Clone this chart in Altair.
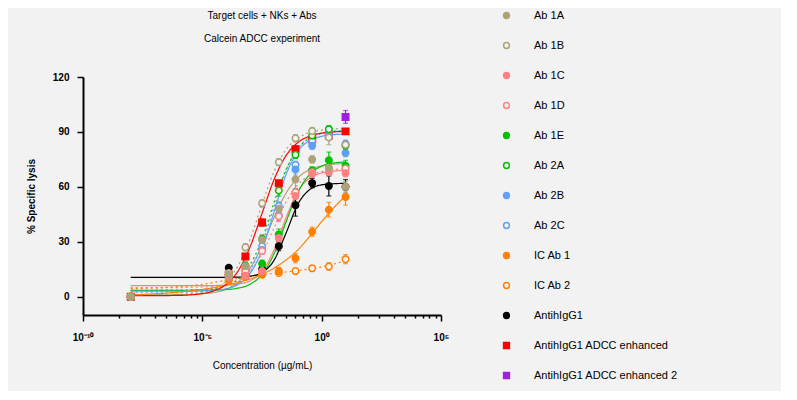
import altair as alt
import pandas as pd

FONT = "Liberation Sans"
BG = "#f2f2f2"

series = ["Ab 1A", "Ab 1B", "Ab 1C", "Ab 1D", "Ab 1E", "Ab 2A", "Ab 2B", "Ab 2C",
          "IC Ab 1", "IC Ab 2", "AntihIgG1", "AntihIgG1 ADCC enhanced",
          "AntihIgG1 ADCC enhanced 2"]
colors = ["#ada279", "#ada279", "#ff8080", "#ff8080", "#00c000", "#00c000",
          "#5ea0f5", "#5ea0f5", "#ff8000", "#ff8000", "#000000", "#ff0000", "#a020e0"]
fills = ["#ada279", BG, "#ff8080", BG, "#00c000", BG, "#5ea0f5", BG,
         "#ff8000", BG, "#000000", "#ff0000", "#a020e0"]
shapes = ["circle"] * 11 + ["square", "square"]
styles = ["solid", "dotted", "solid", "dotted", "solid", "dotted", "solid", "dotted",
          "solid", "dotted", "solid", "solid", "solid"]

# concentrations (ug/mL); first is the no-antibody control plotted at 1e-8
conc = [1e-8, 0.000128, 0.00064, 0.0032, 0.016, 0.08, 0.4, 2, 10]

lysis = {
    "Ab 1A": [0, 12, 16.7, 31, 48, 64, 75, 70.5, 60],
    "Ab 1B": [0, 13, 27, 51, 73.5, 86.5, 90.5, 87, 83],
    "Ab 1C": [0, 11, 11.5, 14, 32, 55, 67, 68, 67.5],
    "Ab 1D": [0, 12, 14, 25, 44, 57, 68, 70, 70],
    "Ab 1E": [0, 12, 14, 18, 34, 57, 69, 74.5, 71.5],
    "Ab 2A": [0, 12, 17, 31.5, 58, 77.5, 88, 91.5, 82.5],
    "Ab 2B": [0, 11, 15, 25.5, 44.5, 69.5, 82.5, 88.5, 78.5],
    "Ab 2C": [0, 11, 16, 27.5, 49.5, 72, 85, 91, 83.5],
    "IC Ab 1": [0, 9, 11, 12, 14, 21, 35.5, 47.5, 54.5],
    "IC Ab 2": [0, 9, 11, 12.5, 13, 14, 15.5, 16.5, 20.5],
    "AntihIgG1": [0, 15.8, 12, 15, 27.6, 50, 62, 60.5, 60],
    "AntihIgG1 ADCC enhanced": [0, 12, 22, 40.5, 62, 80.5, 85.8, 88, 90.3],
}
errors = {
    "Ab 1A": [0, 2, 2, 3, 4, 5, 2, 4, 3],
    "Ab 1B": [0, 2, 2, 2, 2, 2, 2, 4, 2],
    "Ab 1C": [0, 1.5, 1.5, 2, 3, 2, 2, 2, 2],
    "Ab 1D": [0, 2, 2, 2, 3, 2, 2, 3, 2],
    "Ab 1E": [0, 1.5, 1.5, 2, 3, 2, 2, 4.5, 3],
    "Ab 2A": [0, 2, 2, 2, 3, 2, 2, 2, 2],
    "Ab 2B": [0, 1.5, 2, 2, 3, 3, 2, 2, 2],
    "Ab 2C": [0, 1.5, 2, 2, 2, 2, 2, 2, 2],
    "IC Ab 1": [0, 1, 1, 1.5, 2, 2.5, 2.5, 4, 4.5],
    "IC Ab 2": [0, 1, 1, 1, 1, 1, 1.5, 2, 2.5],
    "AntihIgG1": [0, 1, 1, 1.5, 2.5, 6, 2.5, 5.5, 4],
    "AntihIgG1 ADCC enhanced": [0, 1, 1.5, 2, 1.5, 2, 2, 2, 1.5],
}
enh2_conc = [10]
enh2_lysis = [98.2]
enh2_err = [3.5]

# fitted curves
curve_conc = [1e-8, 1e-6, 1e-5, 3.16e-5, 1e-4, 3.16e-4, 1e-3, 3.16e-3, 1e-2,
              3.16e-2, 0.1, 0.316, 1, 3.16, 10]
curves = {
    "Ab 1A": [1, 1.1, 1.6, 2.3, 4.1, 7.9, 15.5, 27.9, 43.1, 56.4, 64.9, 69.4, 71.4, 72.4, 72.7],
    "Ab 1B": [1, 1.3, 2.4, 4.3, 8.5, 16.9, 31.4, 50.4, 68.2, 80.2, 86.6, 89.6, 91, 91.6, 92],
    "Ab 1C": [6, 6, 6, 6.1, 6.3, 6.9, 8.7, 13.8, 25.5, 42.9, 57.5, 64.8, 67.6, 68.6, 68.9],
    "Ab 1D": [5, 5, 5.3, 5.6, 6.6, 8.9, 13.9, 23.5, 37.5, 51.5, 61.1, 66.2, 68.4, 69.4, 69.7],
    "Ab 1E": [3.5, 3.5, 3.6, 3.7, 3.9, 4.7, 6.8, 12.1, 23.4, 40.6, 56.9, 66.8, 71.3, 73.0, 73.6],
    "Ab 2A": [3.5, 3.6, 3.9, 4.5, 6.0, 9.6, 17.5, 31.2, 51.3, 69.2, 80.8, 86.6, 89.2, 90.3, 90.7],
    "Ab 2B": [3, 3, 3.2, 3.5, 4.3, 6.7, 12.7, 25.5, 46, 66.5, 79.4, 85.3, 87.6, 88.5, 88.8],
    "Ab 2C": [2.5, 2.5, 2.8, 3.2, 4.4, 7.4, 14.4, 28.5, 48.8, 68.6, 80.9, 86.9, 89.4, 90.4, 90.7],
    "IC Ab 1": [1, 2.5, 4, 5, 6.3, 7.8, 9.7, 12.2, 15.6, 20, 25.5, 33, 41, 48.5, 55],
    "IC Ab 2": [4.4, 5.5, 6.8, 7.8, 9, 10, 11, 12, 12.8, 13.5, 14.3, 15.2, 16.3, 17.8, 19.6],
    "AntihIgG1": [10.5, 10.5, 10.5, 10.5, 10.5, 10.7, 11.2, 13.2, 19.8, 34.5, 50.5, 58.5, 61.1, 61.7, 61.9],
    "AntihIgG1 ADCC enhanced": [0.5, 0.7, 1.7, 3.3, 6.8, 14.1, 27.2, 45.5, 63.8, 76.9, 84.2, 87.7, 89.3, 90, 90.3],
}

major_ticks = [1e-10, 1e-5, 1, 1e5]
minor_ticks = [b * k ** 5 for b in (1e-10, 1e-5, 1) for k in range(2, 10)]

# ---- tables ----
col_of = dict(zip(series, colors))
rows = []
for s in reversed(series[:-1]):
    for c, v, e in zip(conc, lysis[s], errors[s]):
        rows.append({"series": s, "conc": c, "lysis": v, "err": e})
for c, v, e in zip(enh2_conc, enh2_lysis, enh2_err):
    rows.insert(0, {"series": series[-1], "conc": c, "lysis": v, "err": e})
pts = pd.DataFrame(rows)
pts["lo"] = pts["lysis"] - pts["err"]
pts["hi"] = pts["lysis"] + pts["err"]
pts["col"] = pts["series"].map(col_of)
errs = pts[pts["err"] > 0]

crow = []
for i, s in enumerate(series[:-1]):
    for c, v in zip(curve_conc, curves[s]):
        crow.append({"series": s, "conc": c, "fit": v, "style": styles[i], "col": colors[i]})
cdf = pd.DataFrame(crow)

# ---- scales / axes ----
xscale = alt.Scale(type="log", domain=[1e-10, 1e5], nice=False)
yscale = alt.Scale(domain=[-10, 120], nice=False, zero=False)

xaxis = alt.Axis(
    values=major_ticks + minor_ticks,
    labelExpr="datum.value < 1e-9 ? '10⁻¹⁰' : datum.value > 9.9e-6 && datum.value < 1.1e-5 ? '10⁻⁵' : datum.value == 1 ? '10⁰' : datum.value > 9e4 ? '10⁵' : ''",
    title="Concentration (µg/mL)",
    tickSize={"condition": {"test": "indexof([1e-10, 1e-5, 1, 100000], datum.value) >= 0", "value": 6}, "value": 3},
    labelFontWeight="bold", labelFontSize=10, labelPadding=11, labelFlush=False,
    labelOverlap=False, grid=False, titlePadding=18, titleFontWeight="normal",
)
yaxis = alt.Axis(
    values=[0, 30, 60, 90, 120], title="% Specific lysis", tickSize=6,
    labelFontWeight="bold", labelFontSize=10, labelPadding=8, grid=False,
    titlePadding=16, titleFontWeight="bold",
)

legend = alt.Legend(
    orient="none", legendX=418, legendY=-67, title=None, symbolSize=34,
    symbolStrokeWidth=1.5, labelFontSize=11, labelFont=FONT, labelOffset=22,
    rowPadding=17, padding=0, symbolLimit=0, labelLimit=300,
)

lines = alt.Chart(cdf).mark_line(strokeWidth=1.2, interpolate="monotone").encode(
    x=alt.X("conc:Q", scale=xscale, axis=xaxis),
    y=alt.Y("fit:Q", scale=yscale, axis=yaxis),
    color=alt.Color("col:N", scale=None),
    strokeDash=alt.StrokeDash("style:N", scale=alt.Scale(domain=["solid", "dotted"], range=[[1, 0], [2, 3]]), legend=None),
    detail="series:N",
)

bars = alt.Chart(errs).mark_errorbar(ticks={"size": 5}, thickness=1.2).encode(
    x=alt.X("conc:Q", scale=xscale, title="Concentration (µg/mL)"),
    y=alt.Y("lo:Q", scale=yscale, title="% Specific lysis"),
    y2="hi:Q",
    color=alt.Color("col:N", scale=None),
)

points = alt.Chart(pts).mark_point(size=42, strokeWidth=1.5, opacity=1, fillOpacity=1).encode(
    x=alt.X("conc:Q", scale=xscale, title="Concentration (µg/mL)"),
    y=alt.Y("lysis:Q", scale=yscale, title="% Specific lysis"),
    stroke=alt.Stroke("series:N", scale=alt.Scale(domain=series, range=colors), legend=legend),
    fill=alt.Fill("series:N", scale=alt.Scale(domain=series, range=fills), legend=legend),
    shape=alt.Shape("series:N", scale=alt.Scale(domain=series, range=shapes), legend=legend),
)

chart = alt.layer(lines, bars, points).properties(
    width=358,
    height=238,
    title=alt.Title(["Target cells + NKs + Abs", "Calcein ADCC experiment"],
                    fontSize=10, fontWeight="normal", lineHeight=23, offset=-34,
                    anchor="middle", frame="group", font=FONT, color="#000000"),
    autosize=alt.AutoSizeParams(type="none"),
    padding={"left": 75, "top": 69, "right": 340, "bottom": 76},
    background=BG,
).configure_view(stroke=None).configure_axis(
    domainColor="#000000", domainWidth=2, tickColor="#000000", tickWidth=1.5,
    labelColor="#000000", titleColor="#000000", labelFont=FONT, titleFont=FONT,
    titleFontSize=10,
).configure_legend(labelColor="#000000")

chart.save("out.html", embed_options={"renderer": "svg", "actions": False})
